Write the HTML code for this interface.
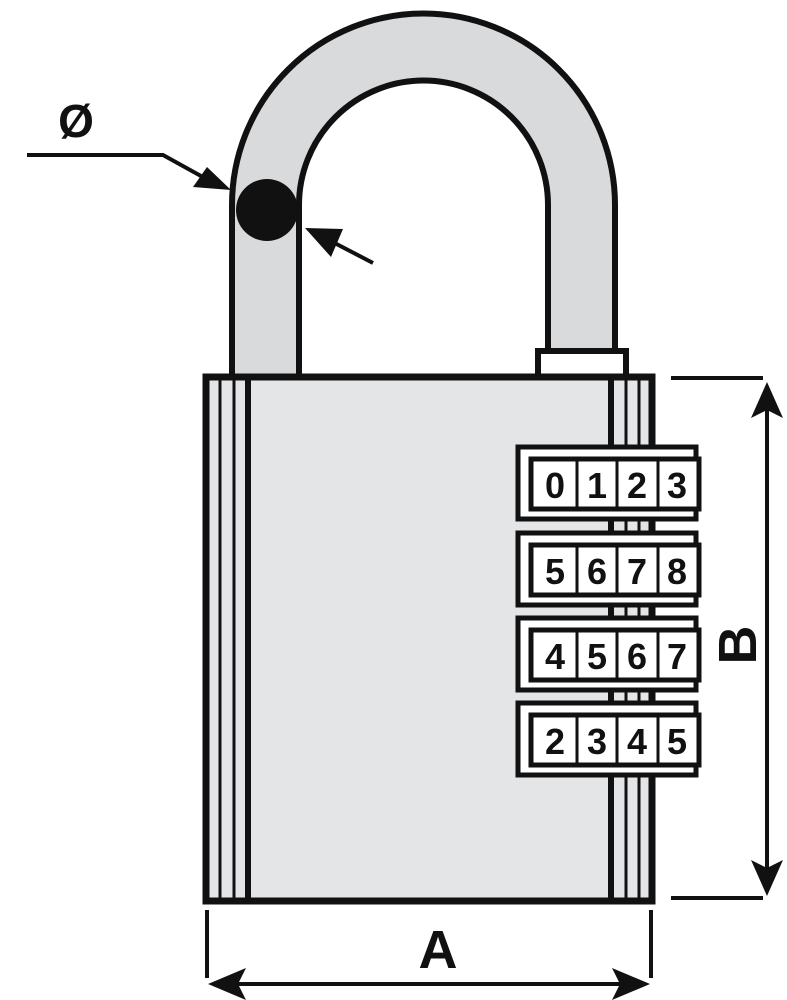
<!DOCTYPE html>
<html><head><style>body{margin:0;background:#fff}svg{display:block}</style></head>
<body>
<svg width="787" height="1000" viewBox="0 0 787 1000" xmlns="http://www.w3.org/2000/svg">
<path d="M232,377 L232,205 A191.5,191.5 0 0 1 615,205 L615,352 L548,352 L548,205 A124.5,124.5 0 0 0 299,205 L299,377 Z" fill="#d9dadc" stroke="#111" stroke-width="6" stroke-linejoin="round"/>
<rect x="538" y="351" width="88" height="27" fill="#fff" stroke="#111" stroke-width="6"/>
<rect x="206" y="377" width="446" height="524" fill="#e4e5e7" stroke="#111" stroke-width="7"/>
<g stroke="#111">
<line x1="248" y1="377" x2="248" y2="901" stroke-width="6"/>
<line x1="220" y1="377" x2="220" y2="901" stroke-width="3"/>
<line x1="234" y1="377" x2="234" y2="901" stroke-width="3"/>
<line x1="611" y1="377" x2="611" y2="901" stroke-width="6"/>
<line x1="626" y1="377" x2="626" y2="901" stroke-width="3"/>
<line x1="639" y1="377" x2="639" y2="901" stroke-width="3"/>
</g>
<g font-family="Liberation Sans, sans-serif" font-weight="bold" font-size="36" text-anchor="middle" fill="#111">
<g>
<rect x="518" y="447" width="178" height="72" fill="#fff" stroke="#111" stroke-width="5"/>
<rect x="531" y="459" width="168" height="50" fill="#fff" stroke="#111" stroke-width="5"/>
<g stroke="#111" stroke-width="3"><line x1="577" y1="459" x2="577" y2="509"/><line x1="617" y1="459" x2="617" y2="509"/><line x1="658" y1="459" x2="658" y2="509"/></g>
<text x="555" y="498">0</text><text x="597" y="498">1</text><text x="637" y="498">2</text><text x="677" y="498">3</text>
</g>
<g transform="translate(0,86)">
<rect x="518" y="447" width="178" height="72" fill="#fff" stroke="#111" stroke-width="5"/>
<rect x="531" y="459" width="168" height="50" fill="#fff" stroke="#111" stroke-width="5"/>
<g stroke="#111" stroke-width="3"><line x1="577" y1="459" x2="577" y2="509"/><line x1="617" y1="459" x2="617" y2="509"/><line x1="658" y1="459" x2="658" y2="509"/></g>
<text x="555" y="498">5</text><text x="597" y="498">6</text><text x="637" y="498">7</text><text x="677" y="498">8</text>
</g>
<g transform="translate(0,171)">
<rect x="518" y="447" width="178" height="72" fill="#fff" stroke="#111" stroke-width="5"/>
<rect x="531" y="459" width="168" height="50" fill="#fff" stroke="#111" stroke-width="5"/>
<g stroke="#111" stroke-width="3"><line x1="577" y1="459" x2="577" y2="509"/><line x1="617" y1="459" x2="617" y2="509"/><line x1="658" y1="459" x2="658" y2="509"/></g>
<text x="555" y="498">4</text><text x="597" y="498">5</text><text x="637" y="498">6</text><text x="677" y="498">7</text>
</g>
<g transform="translate(0,256)">
<rect x="518" y="447" width="178" height="72" fill="#fff" stroke="#111" stroke-width="5"/>
<rect x="531" y="459" width="168" height="50" fill="#fff" stroke="#111" stroke-width="5"/>
<g stroke="#111" stroke-width="3"><line x1="577" y1="459" x2="577" y2="509"/><line x1="617" y1="459" x2="617" y2="509"/><line x1="658" y1="459" x2="658" y2="509"/></g>
<text x="555" y="498">2</text><text x="597" y="498">3</text><text x="637" y="498">4</text><text x="677" y="498">5</text>
</g>
</g>
<circle cx="267" cy="210" r="31" fill="#111"/>
<polyline points="27,155 163,155 210,181" fill="none" stroke="#111" stroke-width="4"/>
<polygon points="231,190 193,187 207,167" fill="#111"/>
<line x1="373" y1="263" x2="325" y2="238" stroke="#111" stroke-width="4"/>
<polygon points="305,228 343,229 331,257" fill="#111"/>
<text x="76" y="137" font-family="Liberation Sans, sans-serif" font-weight="bold" font-size="46" text-anchor="middle" fill="#111">Ø</text>
<g stroke="#111" stroke-width="4">
<line x1="207" y1="910" x2="207" y2="978"/>
<line x1="651" y1="910" x2="651" y2="978"/>
<line x1="235" y1="984" x2="622" y2="984"/>
<line x1="671" y1="378" x2="763" y2="378"/>
<line x1="671" y1="898" x2="763" y2="898"/>
<line x1="767" y1="410" x2="767" y2="868"/>
</g>
<polygon points="208,984 246,968 238,984 246,1000" fill="#111"/>
<polygon points="650,984 612,968 620,984 612,1000" fill="#111"/>
<polygon points="767,382 751,418 767,410 783,418" fill="#111"/>
<polygon points="767,896 751,860 767,868 783,860" fill="#111"/>
<text x="438" y="968" font-family="Liberation Sans, sans-serif" font-weight="bold" font-size="54" text-anchor="middle" fill="#111">A</text>
<text transform="translate(756,645) rotate(-90)" font-family="Liberation Sans, sans-serif" font-weight="bold" font-size="54" text-anchor="middle" fill="#111">B</text>
</svg>
</body></html>
